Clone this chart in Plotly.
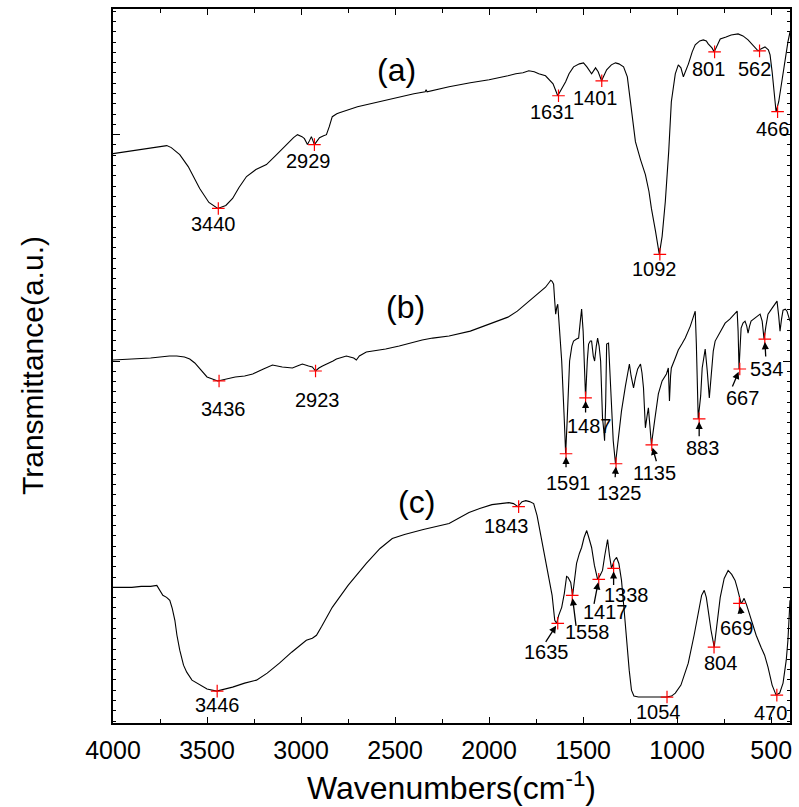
import plotly.graph_objects as go

# ---------------- data (wavenumber cm-1, transmittance a.u.) ----------------
wn_a = [4000, 3900, 3850, 3800, 3750, 3714, 3690, 3645, 3600, 3539, 3490, 3443, 3400, 3364, 3330, 3290,
        3240, 3184, 3130, 3078, 3040, 3019, 2995, 2982, 2966, 2955, 2945, 2929, 2915, 2902, 2880, 2865,
        2850, 2834, 2810, 2796, 2700, 2653, 2550, 2478, 2400, 2340, 2335, 2330, 2213, 2100, 2000, 1900,
        1858, 1820, 1789, 1760, 1736, 1700, 1683, 1660, 1635, 1615, 1593, 1575, 1551, 1520, 1498, 1480,
        1455, 1434, 1420, 1402, 1390, 1375, 1350, 1328, 1310, 1285, 1265, 1248, 1222, 1195, 1169, 1150,
        1137, 1115, 1095, 1080, 1063, 1045, 1031, 1010, 994, 980, 967, 940, 920, 904, 880, 861, 845, 835,
        815, 803, 790, 771, 740, 713, 676, 650, 623, 600, 570, 555, 533, 515, 506, 495, 485, 474, 460,
        447, 430, 411, 400]
t_a = [566, 569, 570, 572, 573, 574, 572, 565, 553, 531, 517, 511, 514, 521, 532, 543,
       550, 555, 565, 575, 582, 585, 583, 581, 575, 579, 583, 575, 579, 582, 584, 585,
       593, 603, 606, 607, 613, 615, 620, 623, 626, 628, 630, 628, 633, 637, 640, 644,
       646, 647, 649, 648, 646, 644, 641, 636, 624, 630, 638, 646, 653, 656, 657, 653,
       646, 652, 648, 639, 644, 650, 655, 657, 656, 653, 643, 618, 578, 560, 545, 528,
       511, 488, 465, 483, 518, 568, 618, 646, 655, 652, 643, 656, 668, 675, 679, 680, 679, 676,
       672, 668, 674, 681, 683, 685, 686, 684, 680, 675, 669, 671, 673, 670, 665, 648, 626, 608, 618,
       635, 658, 678, 688]

wn_b = [4000, 3900, 3800, 3700, 3661, 3620, 3592, 3565, 3539, 3500, 3443, 3400, 3350, 3300, 3257, 3200,
        3152, 3100, 3046, 3020, 2993, 2960, 2940, 2923, 2905, 2886, 2850, 2830, 2812, 2790, 2770, 2759,
        2740, 2720, 2706, 2690, 2653, 2550, 2478, 2400, 2356, 2300, 2213, 2100, 2000, 1948, 1900, 1850,
        1805, 1770, 1736, 1700, 1680, 1672, 1665, 1657, 1651, 1646, 1640, 1635, 1625, 1614, 1600, 1593,
        1585, 1572, 1560, 1551, 1535, 1524, 1515, 1508, 1500, 1487, 1478, 1471, 1462, 1455, 1446, 1439,
        1430, 1423, 1415, 1407, 1400, 1397, 1390, 1386, 1380, 1375, 1365, 1360, 1354, 1340, 1328, 1315,
        1296, 1275, 1254, 1245, 1232, 1222, 1210, 1195, 1187, 1179, 1169, 1160, 1153, 1145, 1137, 1120,
        1100, 1080, 1057, 1047, 1041, 1035, 1031, 1010, 994, 975, 957, 930, 904, 898, 892, 888, 875,
        867, 851, 845, 840, 829, 824, 819, 808, 798, 770, 745, 720, 692, 681, 676, 671, 665, 660, 650,
        639, 630, 623, 615, 607, 580, 559, 548, 538, 528, 517, 495, 469, 460, 453, 445, 437, 425, 416,
        400]
t_b = [359, 360, 361, 363, 363, 362, 360, 356, 350, 342, 338, 340, 342, 343, 345, 350,
       354, 352, 351, 353, 355, 353, 352, 348, 351, 353, 356, 358, 360, 361, 362, 363,
       362, 361, 359, 363, 367, 370, 373, 377, 379, 381, 383, 388, 395, 398, 402, 408,
       415, 421, 426, 432, 437, 439, 438, 435, 418, 405, 412, 415, 388, 358, 298, 265,
       298, 358, 373, 378, 380, 381, 398, 410, 388, 321, 358, 375, 378, 378, 363, 358,
       373, 381, 373, 358, 318, 301, 288, 278, 318, 375, 376, 358, 325, 278, 255, 278,
       308, 333, 355, 343, 331, 341, 350, 355, 346, 331, 291, 303, 311, 293, 274, 298,
       325, 338, 345, 351, 318, 343, 351, 361, 369, 375, 381, 393, 408, 375, 328, 300, 323,
       351, 370, 360, 348, 321, 333, 351, 368, 378, 388, 396, 400, 406, 408, 388, 350, 373, 391, 396,
       398, 393, 386, 393, 398, 402, 405, 398, 380, 393, 405, 411, 418, 403, 388, 400, 409, 410, 408,
       398]

wn_c = [4000, 3900, 3850, 3800, 3767, 3750, 3735, 3715, 3698, 3685, 3671, 3660, 3645, 3625, 3608, 3580,
        3539, 3500, 3449, 3400, 3364, 3300, 3237, 3180, 3115, 3050, 2972, 2940, 2918, 2890, 2860, 2834,
        2750, 2653, 2580, 2515, 2450, 2350, 2213, 2150, 2107, 2050, 1985, 1940, 1895, 1870, 1847, 1825,
        1805, 1785, 1763, 1745, 1720, 1700, 1683, 1665, 1651, 1641, 1630, 1614, 1600, 1588, 1580, 1566,
        1556, 1545, 1535, 1520, 1508, 1495, 1481, 1470, 1455, 1440, 1423, 1410, 1397, 1385, 1370, 1360,
        1349, 1335, 1322, 1310, 1296, 1282, 1270, 1255, 1243, 1230, 1206, 1150, 1100, 1057, 1030, 1010,
        980, 941, 910, 888, 870, 856, 845, 835, 820, 803, 790, 771, 750, 729, 710, 692, 680, 671, 660,
        652, 644, 630, 607, 580, 554, 535, 517, 495, 474, 455, 437, 420, 411, 400]
t_c = [131, 131, 132, 132, 133, 128, 123, 121, 118, 110, 98, 83, 68, 53, 46, 38,
       33, 29, 27, 29, 31, 35, 38, 45, 55, 66, 78, 80, 83, 92, 102, 111,
       133, 155, 170, 180, 184, 189, 195, 202, 206, 210, 214, 215, 216, 215, 212, 217,
       218, 217, 215, 203, 178, 162, 145, 123, 98, 95, 103, 111, 125, 142, 141, 136,
       123, 143, 155, 165, 171, 181, 188, 181, 171, 153, 139, 143, 148, 163, 179, 163,
       150, 158, 161, 155, 138, 108, 78, 48, 28, 22, 21, 21, 21, 21, 22, 25,
       33, 55, 83, 105, 123, 128, 121, 108, 88, 71, 93, 121, 140, 148, 144, 138, 130, 123, 115,
       117, 120, 113, 98, 83, 71, 63, 51, 33, 23, 25, 35, 58, 78, 118]

# peak positions (label text) and their transmittance values
peaks_a = [3440, 2929, 1631, 1401, 1092, 801, 562, 466]
peak_t_a = [511, 575, 624, 639, 465, 668, 669, 608]
peaks_b = [3436, 2923, 1591, 1487, 1325, 1135, 883, 667, 534]
peak_t_b = [338, 348, 265, 321, 255, 274, 300, 350, 380]
peaks_c = [3446, 1843, 1635, 1558, 1417, 1338, 1054, 804, 669, 470]
peak_t_c = [27, 212, 95, 123, 139, 150, 21, 71, 115, 23]

x_ticks = [4000, 3500, 3000, 2500, 2000, 1500, 1000, 500]

# ---------------- styling / placement ----------------
FONT = "Liberation Sans, Arial, sans-serif"
label_off_a = [(-5, 16), (-6, 16), (-6, 16), (-6, 17), (-5, 15), (-6, 17), (-5, 18), (-5, 17)]
label_off_b = [(4, 28), (2, 29), (2, 29), (4, 28), (3, 29), (3, 28), (3, 29), (3, 29), (2, 30)]
label_off_c = [(0, 14), (-12, 19), (-11, 29), (15, 37), (7, 33), (13, 27), (-9, 15), (6, 16), (-3, 25), (-6, 18)]
# arrows: tail offset in px from the marked peak
arrows_b = {1591: (0, 15), 1487: (0, 16), 1325: (-1, 15), 1135: (5, 18), 883: (0, 19), 667: (-8, 19), 534: (1, 19)}
arrows_c = {1635: (-13, 20), 1558: (4, 32), 1417: (-5, 26), 1338: (0, 18), 669: (2, 12)}

fig = go.Figure()
for wn, t in [(wn_a, t_a), (wn_b, t_b), (wn_c, t_c)]:
    fig.add_trace(go.Scatter(x=wn, y=t, mode="lines", line=dict(color="black", width=1.1),
                             showlegend=False, hoverinfo="skip"))
for pk, pt in [(peaks_a, peak_t_a), (peaks_b, peak_t_b), (peaks_c, peak_t_c)]:
    fig.add_trace(go.Scatter(x=pk, y=pt, mode="markers", showlegend=False,
                             marker=dict(symbol="cross-thin", size=9, color="red",
                                         line=dict(color="red", width=1.2))))

ann = []
for pk, pt, offs in [(peaks_a, peak_t_a, label_off_a), (peaks_b, peak_t_b, label_off_b),
                     (peaks_c, peak_t_c, label_off_c)]:
    for p, t, (dx, dy) in zip(pk, pt, offs):
        ann.append(dict(x=p, y=t, text=str(p), showarrow=False, xshift=dx, yshift=-dy,
                        xanchor="center", yanchor="middle",
                        font=dict(family=FONT, size=20, color="black")))
for pk, pt, arr in [(peaks_b, peak_t_b, arrows_b), (peaks_c, peak_t_c, arrows_c)]:
    for p, t in zip(pk, pt):
        if p in arr:
            ax, ay = arr[p]
            ann.append(dict(x=p, y=t, text="", showarrow=True, ax=ax, ay=ay, arrowhead=2,
                            arrowsize=1.1, arrowwidth=1.3, arrowcolor="black", standoff=3))

# panel labels
for txt, xx, yy in [("(a)", 2490, 650), ("(b)", 2447, 412), ("(c)", 2388, 217)]:
    ann.append(dict(x=xx, y=yy, text=txt, showarrow=False, xanchor="center", yanchor="middle",
                    font=dict(family=FONT, size=32, color="black")))

# axis titles
ann.append(dict(x=0.5, y=0, xref="paper", yref="paper", text="Wavenumbers(cm<sup>-1</sup>)",
                showarrow=False, xanchor="center", yanchor="middle", yshift=-63,
                font=dict(family=FONT, size=32, color="black")))
ann.append(dict(x=0, y=0.5, xref="paper", yref="paper", text="Transmittance(a.u.)", textangle=-90,
                showarrow=False, xanchor="center", yanchor="middle", xshift=-81,
                font=dict(family=FONT, size=30, color="black")))

fig.update_layout(
    width=799, height=807,
    margin=dict(l=113, r=7, t=7, b=84),
    paper_bgcolor="white", plot_bgcolor="white",
    annotations=ann,
    xaxis=dict(range=[4000, 400], tickvals=x_ticks, ticktext=[str(v) for v in x_ticks],
               ticks="inside", ticklen=6, tickwidth=1.2, tickcolor="black",
               showline=True, linecolor="black", linewidth=1.5, mirror="allticks",
               showgrid=False, zeroline=False, ticklabelstandoff=4,
               tickfont=dict(family=FONT, size=25, color="black"),
               minor=dict(tickvals=[3750, 3250, 2750, 2250, 1750, 1250, 750], ticks="inside",
                          ticklen=4, tickwidth=1, tickcolor="black", showgrid=False)),
    yaxis=dict(range=[-5, 711], tick0=131, dtick=227, showticklabels=False,
               ticks="inside", ticklen=7, tickwidth=1.2, tickcolor="black",
               showline=True, linecolor="black", linewidth=1.5, mirror="allticks",
               showgrid=False, zeroline=False,
               minor=dict(tick0=131, dtick=227 / 22, ticks="inside", ticklen=3, tickwidth=1,
                          tickcolor="black", showgrid=False)),
)

fig.write_html("out.html")
